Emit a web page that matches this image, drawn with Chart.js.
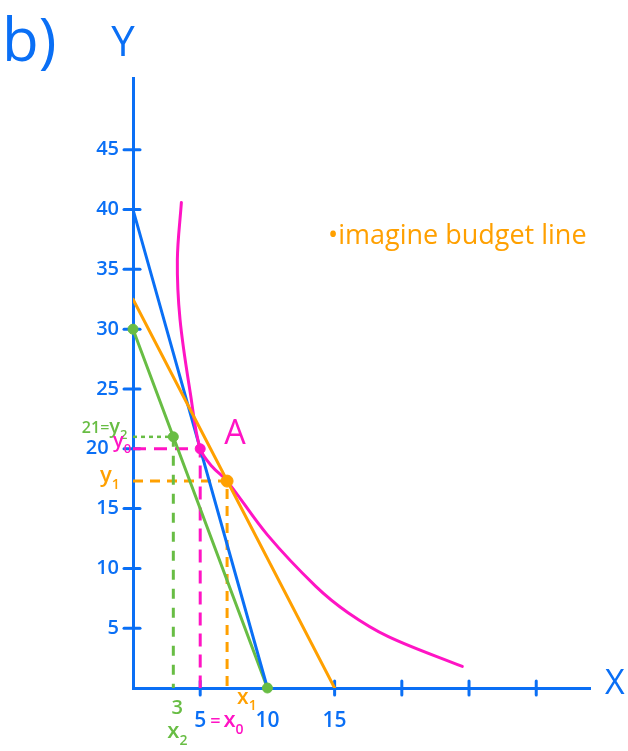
<!DOCTYPE html>
<html>
<head>
<meta charset="utf-8">
<script src="https://cdn.jsdelivr.net/npm/chart.js"></script>
<style>
  html, body { margin: 0; padding: 0; background: #ffffff; }
  #wrap { width: 628px; height: 751px; }
</style>
</head>
<body>
<div id="wrap"><canvas id="graphique"></canvas></div>
<script>
// couleurs du dessin
const BLUE = '#0a6ff5';
const PINK = '#ff14c4';
const ORANGE = '#ffa000';
const GREEN = '#68bd44';
const FONT = '"Open Sans", "DejaVu Sans", sans-serif';

// DONNEES
const yTicks = [5, 10, 15, 20, 25, 30, 35, 40, 45];
const xTicks = [5, 10, 15];
const xTickLabels = ['5', '10', '15'];
const xTickMarks = [5, 15, 20, 25, 30];

const blueBudget = [{ x: 0, y: 40 }, { x: 10, y: 0 }];
const greenBudget = [{ x: 0, y: 30 }, { x: 10, y: 0 }];
const orangeBudget = [{ x: 0, y: 32.5 }, { x: 15, y: 0 }];

// courbe d'indifference
const indifference = [
  { x: 3.6, y: 40.6 }, { x: 3.3, y: 35.8 }, { x: 3.5, y: 30.8 }, { x: 4.3, y: 24.4 },
  { x: 5, y: 20 }, { x: 5.9, y: 18.5 }, { x: 7, y: 17.3 }, { x: 10, y: 12.8 },
  { x: 13.6, y: 8.5 }, { x: 16, y: 6.3 }, { x: 19, y: 4.3 }, { x: 24.5, y: 1.8 }
];

// points marques
const pointX0 = { x: 5, y: 20 };     // x0, y0
const pointA = { x: 7, y: 17.3 };    // x1, y1
const pointX2 = { x: 3, y: 21 };     // x2, y2
const greenDots = [{ x: 0, y: 30 }, pointX2, { x: 10, y: 0 }];

// lignes pointillees vers les axes
const greenGuideH = [{ x: 0, y: pointX2.y }, pointX2];
const greenGuideV = [pointX2, { x: pointX2.x, y: 0 }];
const pinkGuide = [{ x: 0, y: pointX0.y }, pointX0, { x: pointX0.x, y: 0 }];
const orangeGuide = [{ x: 0, y: pointA.y }, pointA, { x: pointA.x, y: 0 }];

// texte avec indice
function textSub(ctx, base, sub, x, y, color, size) {
  ctx.fillStyle = color;
  ctx.textAlign = 'left';
  ctx.textBaseline = 'middle';
  ctx.font = '600 ' + size + 'px ' + FONT;
  ctx.fillText(base, x, y);
  const w = ctx.measureText(base).width;
  ctx.font = '600 ' + Math.round(size * 0.65) + 'px ' + FONT;
  ctx.fillText(sub, x + w, y + size * 0.4);
  return w + ctx.measureText(sub).width;
}

function text(ctx, txt, x, y, color, size, align, weight) {
  ctx.fillStyle = color;
  ctx.textAlign = align || 'left';
  ctx.textBaseline = 'middle';
  ctx.font = (weight || '600') + ' ' + size + 'px ' + FONT;
  ctx.fillText(txt, x, y);
  return ctx.measureText(txt).width;
}

const annotations = {
  id: 'annotations',
  beforeDatasetsDraw(chart) {
    const ctx = chart.ctx;
    const xs = chart.scales.x;
    const ys = chart.scales.y;
    ctx.save();
    ctx.strokeStyle = BLUE;
    ctx.lineWidth = 3;
    ctx.lineCap = 'round';
    // petits traits qui croisent les axes
    yTicks.forEach(v => {
      const p = ys.getPixelForValue(v);
      ctx.beginPath();
      ctx.moveTo(xs.left - 9, p);
      ctx.lineTo(xs.left + 7, p);
      ctx.stroke();
    });
    xTickMarks.forEach(v => {
      const p = xs.getPixelForValue(v);
      ctx.beginPath();
      ctx.moveTo(p, ys.bottom - 7);
      ctx.lineTo(p, ys.bottom + 7);
      ctx.stroke();
    });
    ctx.restore();
  },
  afterDraw(chart) {
    const ctx = chart.ctx;
    const xs = chart.scales.x;
    const ys = chart.scales.y;
    ctx.save();

    text(ctx, 'b)', 2, 44, BLUE, 60, 'left', '400');
    text(ctx, 'Y', 123, 44, BLUE, 42, 'center', '400');
    text(ctx, 'X', 605, 684, BLUE, 34, 'left', '400');

    // axe X
    text(ctx, '3', xs.getPixelForValue(pointX2.x) + 4, 708, GREEN, 20, 'center');
    textSub(ctx, 'x', '2', xs.getPixelForValue(pointX2.x) - 6, 732, GREEN, 22);
    let px = xs.getPixelForValue(pointX0.x) + 10;
    px += text(ctx, '=', px, 722, PINK, 18) + 3;
    textSub(ctx, 'x', '0', px, 721, PINK, 22);
    textSub(ctx, 'x', '1', xs.getPixelForValue(pointA.x) + 10, 698, ORANGE, 21);

    // axe Y
    const yy2 = ys.getPixelForValue(pointX2.y) - 8;
    ctx.font = '600 16px ' + FONT;
    const w1 = ctx.measureText('21=').width;
    ctx.font = '600 20px ' + FONT;
    const w2 = ctx.measureText('y').width + 9;
    const start = 129 - w1 - w2;
    text(ctx, '21=', start, yy2, GREEN, 16);
    textSub(ctx, 'y', '2', start + w1, yy2 - 2, GREEN, 20);
    textSub(ctx, 'y', '0', 113, ys.getPixelForValue(pointX0.y) - 7, PINK, 20);
    textSub(ctx, 'y', '1', 100, ys.getPixelForValue(pointA.y) - 5, ORANGE, 22);

    // point A
    text(ctx, 'A', xs.getPixelForValue(pointX0.x) + 24, ys.getPixelForValue(pointX0.y) - 14, PINK, 34, 'left', '400');

    text(ctx, '\u2022imagine budget line', 328, 236, ORANGE, 27, 'left', '400');
    ctx.restore();
  }
};

function lineSet(data, color, extra) {
  return Object.assign({
    data: data,
    borderColor: color,
    backgroundColor: color,
    borderWidth: 3,
    pointRadius: 0,
    fill: false,
    tension: 0,
    borderCapStyle: 'round'
  }, extra || {});
}

function dotSet(data, color, r) {
  return {
    data: data,
    showLine: false,
    pointRadius: r,
    pointBackgroundColor: color,
    pointBorderColor: color,
    clip: false
  };
}

const ctx = document.getElementById('graphique').getContext('2d');
new Chart(ctx, {
  type: 'line',
  data: {
    datasets: [
      dotSet([pointA], ORANGE, 6),
      dotSet([pointX0], PINK, 5),
      dotSet(greenDots, GREEN, 5),
      lineSet(orangeBudget, ORANGE),
      lineSet(indifference, PINK, { tension: 0.35 }),
      lineSet(blueBudget, BLUE),
      lineSet(greenBudget, GREEN),
      lineSet(greenGuideH, GREEN, { borderWidth: 2.5, borderDash: [4, 4], borderCapStyle: 'butt' }),
      lineSet(greenGuideV, GREEN, { borderDash: [10, 9], borderCapStyle: 'butt' }),
      lineSet(pinkGuide, PINK, { borderDash: [13, 8], borderCapStyle: 'butt' }),
      lineSet(orangeGuide, ORANGE, { borderDash: [10, 7], borderCapStyle: 'butt' })
    ]
  },
  options: {
    responsive: true,
    maintainAspectRatio: false,
    animation: false,
    layout: { padding: { left: 0, right: 38, top: 78, bottom: 0 } },
    plugins: {
      legend: { display: false },
      tooltip: { enabled: false }
    },
    scales: {
      x: {
        type: 'linear',
        min: 0,
        max: 34,
        afterFit: s => { s.height = 63; },
        afterBuildTicks: s => { s.ticks = xTicks.map(v => ({ value: v })); },
        ticks: {
          callback: v => xTickLabels[xTicks.indexOf(v)],
          color: BLUE,
          font: { family: FONT, size: 21, weight: '600' },
          padding: 20,
          maxRotation: 0,
          autoSkip: false
        },
        grid: { drawOnChartArea: false, drawTicks: false },
        border: { color: BLUE, width: 3 }
      },
      y: {
        type: 'linear',
        min: 0,
        max: 51,
        afterFit: s => { s.width = 133; },
        afterBuildTicks: s => { s.ticks = yTicks.map(v => ({ value: v })); },
        ticks: {
          callback: v => v === 20 ? '20  ' : String(v),
          color: BLUE,
          font: { family: FONT, size: 20, weight: '600' },
          padding: 14,
          autoSkip: false
        },
        grid: { drawOnChartArea: false, drawTicks: false },
        border: { color: BLUE, width: 3 }
      }
    }
  },
  plugins: [annotations]
});
</script>
</body>
</html>
